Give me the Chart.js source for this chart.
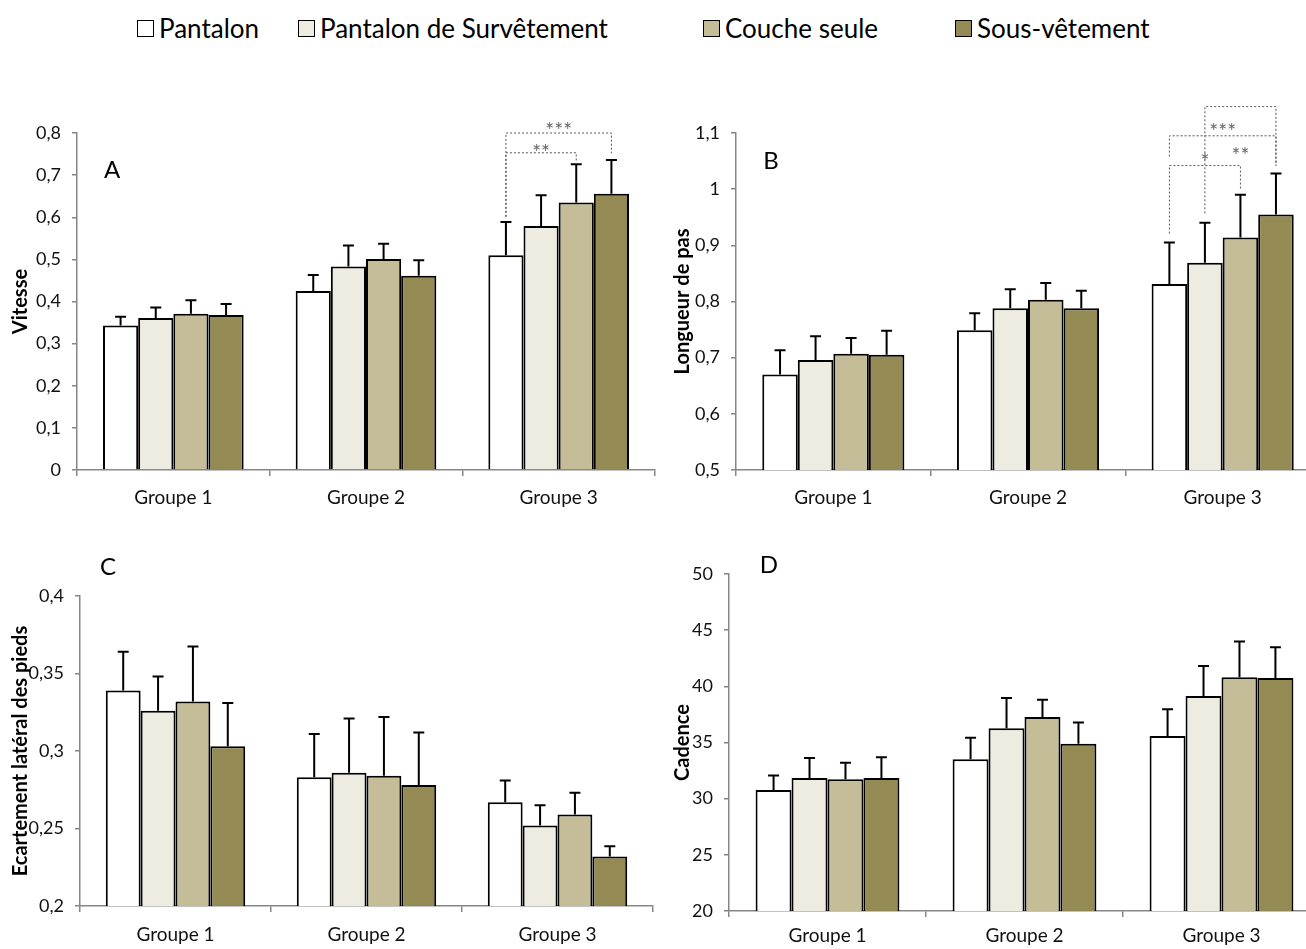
<!DOCTYPE html>
<html lang="fr">
<head>
  <meta charset="UTF-8">
  <title>Paramètres de marche selon la tenue</title>
  <script src="https://cdn.jsdelivr.net/npm/chart.js"></script>
  <style>
    body { margin: 0; overflow: hidden; background: white; width: 1306px; height: 949px; position: relative; }
    canvas { position: absolute; }
    #legende { position: absolute; top: 0; left: 0; font-family: Lato, sans-serif; font-size: 26px; color: #000; }
    .item { position: absolute; top: 12px; white-space: nowrap; display: flex; align-items: center; }
    .carre { display: inline-block; width: 15px; height: 15px; border: 1.5px solid #000; margin-right: 5px; }
  </style>
</head>
<body>

<div id="legende"></div>
<canvas id="cA" width="660" height="430" style="left:0;top:90px"></canvas>
<canvas id="cB" width="660" height="430" style="left:660px;top:90px"></canvas>
<canvas id="cC" width="660" height="409" style="left:0;top:540px"></canvas>
<canvas id="cD" width="660" height="409" style="left:660px;top:540px"></canvas>

<script>
const groupes = ['Groupe 1', 'Groupe 2', 'Groupe 3'];
const tenues = ['Pantalon', 'Pantalon de Survêtement', 'Couche seule', 'Sous-vêtement'];
const couleurs = ['#FFFFFF', '#EEEBE0', '#C4BD97', '#948A54'];

// moyennes et écarts-types, une ligne par tenue, une colonne par groupe
const vitesseMoy = [[0.343, 0.425, 0.510], [0.361, 0.483, 0.579], [0.371, 0.501, 0.635], [0.368, 0.461, 0.656]];
const vitesseET  = [[0.021, 0.038, 0.079], [0.025, 0.050, 0.073], [0.032, 0.036, 0.091], [0.026, 0.037, 0.080]];

const longueurMoy = [[0.670, 0.749, 0.831], [0.696, 0.788, 0.869], [0.707, 0.803, 0.914], [0.705, 0.788, 0.955]];
const longueurET  = [[0.043, 0.030, 0.074], [0.042, 0.034, 0.071], [0.028, 0.030, 0.076], [0.043, 0.031, 0.073]];

const ecartMoy = [[0.339, 0.283, 0.267], [0.326, 0.286, 0.252], [0.332, 0.284, 0.259], [0.303, 0.278, 0.232]];
const ecartET  = [[0.025, 0.028, 0.014], [0.022, 0.035, 0.013], [0.0355, 0.038, 0.014], [0.028, 0.034, 0.0066]];

const cadenceMoy = [[30.77, 33.50, 35.58], [31.84, 36.26, 39.14], [31.72, 37.27, 40.80], [31.84, 34.89, 40.74]];
const cadenceET  = [[1.30, 1.93, 2.37], [1.78, 2.70, 2.67], [1.48, 1.54, 3.20], [1.84, 1.90, 2.73]];

// comparaisons significatives (groupe, tenue a, tenue b, hauteurs en unités de l'axe)
const signifA = [
  { g: 2, a: 0, b: 2, niveau: 0.753, basA: 0.601, basB: 0.733, txt: '**',  txtY: 0.764 },
  { g: 2, a: 0, b: 3, niveau: 0.800, basA: 0.601, basB: 0.752, txt: '***', txtY: 0.817 }
];
const signifB = [
  { g: 2, a: 1, b: 3, niveau: 1.147, basA: 0.957, basB: 1.042, txt: '**',  txtY: 1.067 },
  { g: 2, a: 0, b: 3, niveau: 1.095, basA: 1.058, basB: 1.042, txt: '***', txtY: 1.111 },
  { g: 2, a: 0, b: 2, niveau: 1.042, basA: 0.921, basB: 0.998, txt: '*',   txtY: 1.057 }
];

// légende commune
const legendeX = [137, 298, 703, 955];
const leg = document.getElementById('legende');
tenues.forEach((t, i) => {
  const d = document.createElement('div');
  d.className = 'item';
  d.style.left = legendeX[i] + 'px';
  d.innerHTML = '<span class="carre" style="background:' + couleurs[i] + '"></span>' + t;
  leg.appendChild(d);
});

const police = 'Lato, sans-serif';
const gris = '#868686';
const virgule = v => String(Number(v.toFixed(3))).replace('.', ',');

const barresErreur = {
  id: 'barresErreur',
  afterDatasetsDraw(chart) {
    const ctx = chart.ctx, y = chart.scales.y;
    ctx.save();
    ctx.strokeStyle = '#000';
    ctx.lineWidth = 2;
    chart.data.datasets.forEach((ds, i) => {
      chart.getDatasetMeta(i).data.forEach((bar, j) => {
        const haut = y.getPixelForValue(ds.data[j] + ds.et[j]);
        ctx.beginPath();
        ctx.moveTo(bar.x, bar.y);
        ctx.lineTo(bar.x, haut);
        ctx.moveTo(bar.x - 5.5, haut);
        ctx.lineTo(bar.x + 5.5, haut);
        ctx.stroke();
      });
    });
    ctx.restore();
  }
};

function crochets(liste) {
  return {
    id: 'crochets',
    afterDraw(chart) {
      const ctx = chart.ctx, y = chart.scales.y;
      ctx.save();
      liste.forEach(c => {
        const xa = chart.getDatasetMeta(c.a).data[c.g].x;
        const xb = chart.getDatasetMeta(c.b).data[c.g].x;
        const yn = y.getPixelForValue(c.niveau);
        ctx.strokeStyle = '#555';
        ctx.lineWidth = 1;
        ctx.setLineDash([2, 2]);
        ctx.beginPath();
        ctx.moveTo(xa, y.getPixelForValue(c.basA));
        ctx.lineTo(xa, yn);
        ctx.lineTo(xb, yn);
        ctx.lineTo(xb, y.getPixelForValue(c.basB));
        ctx.stroke();
        ctx.setLineDash([]);
        ctx.fillStyle = '#666';
        ctx.font = '21px ' + police;
        ctx.textAlign = 'center';
        ctx.textBaseline = 'middle';
        ctx.fillText(c.txt, (xa + xb) / 2, y.getPixelForValue(c.txtY) + 5);
      });
      ctx.restore();
    }
  };
}

function lettre(txt, dx, dy) {
  return {
    id: 'lettre',
    afterDraw(chart) {
      const ctx = chart.ctx, a = chart.chartArea;
      ctx.save();
      ctx.fillStyle = '#000';
      ctx.font = '24px ' + police;
      ctx.textAlign = 'center';
      ctx.textBaseline = 'middle';
      ctx.fillText(txt, a.left + dx, a.top + dy);
      ctx.restore();
    }
  };
}

function panneau(id, moy, et, o) {
  return new Chart(document.getElementById(id), {
    type: 'bar',
    data: {
      labels: groupes,
      datasets: tenues.map((t, i) => ({
        label: t,
        data: moy[i],
        et: et[i],
        backgroundColor: couleurs[i],
        borderColor: '#000',
        borderWidth: 2
      }))
    },
    options: {
      responsive: false,
      animation: false,
      locale: 'fr-FR',
      layout: { padding: { top: o.hautPad, right: o.droitePad, left: 0, bottom: 0 } },
      datasets: { bar: { categoryPercentage: 0.73, barPercentage: 1.0 } },
      plugins: { legend: { display: false }, tooltip: { enabled: false } },
      scales: {
        x: {
          grid: { offset: true, drawOnChartArea: false, color: gris, lineWidth: 1.5, tickLength: 6 },
          border: { color: gris, width: 1.5 },
          ticks: { color: '#111', font: { family: police, size: 19 }, padding: o.xPad },
          afterFit: s => { s.height = o.basH; }
        },
        y: {
          min: o.min, max: o.max,
          ticks: { stepSize: o.pas, color: '#111', font: { family: police, size: 18 }, padding: 11, callback: virgule },
          grid: { drawOnChartArea: false, color: gris, lineWidth: 1.5, tickLength: 5 },
          border: { color: gris, width: 1.5 },
          title: { display: true, text: o.titre, color: '#000', font: { family: police, size: 20, weight: 'bold' }, padding: { top: o.titrePad, bottom: 0 } },
          afterFit: s => { s.width = o.gaucheW; }
        }
      }
    },
    plugins: [barresErreur, crochets(o.signif || []), lettre(o.lettre, o.lx, o.ly)]
  });
}

panneau('cA', vitesseMoy, vitesseET, {
  min: 0, max: 0.8, pas: 0.1, titre: 'Vitesse', lettre: 'A', lx: 35, ly: 37,
  hautPad: 43, droitePad: 5, basH: 50, gaucheW: 77, titrePad: 9, xPad: 10, signif: signifA
});
panneau('cB', longueurMoy, longueurET, {
  min: 0.5, max: 1.1, pas: 0.1, titre: 'Longueur de pas', lettre: 'B', lx: 35, ly: 28,
  hautPad: 43, droitePad: 0, basH: 50, gaucheW: 76, titrePad: 11, xPad: 10, signif: signifB
});
panneau('cC', ecartMoy, ecartET, {
  min: 0.2, max: 0.4, pas: 0.05, titre: 'Ecartement latéral des pieds', lettre: 'C', lx: 28, ly: -29,
  hautPad: 56, droitePad: 7, basH: 43, gaucheW: 80, titrePad: 9, xPad: 11
});
panneau('cD', cadenceMoy, cadenceET, {
  min: 20, max: 50, pas: 5, titre: 'Cadence', lettre: 'D', lx: 40, ly: -9,
  hautPad: 34, droitePad: 0, basH: 38, gaucheW: 69, titrePad: 11, xPad: 7
});
</script>

</body>
</html>
